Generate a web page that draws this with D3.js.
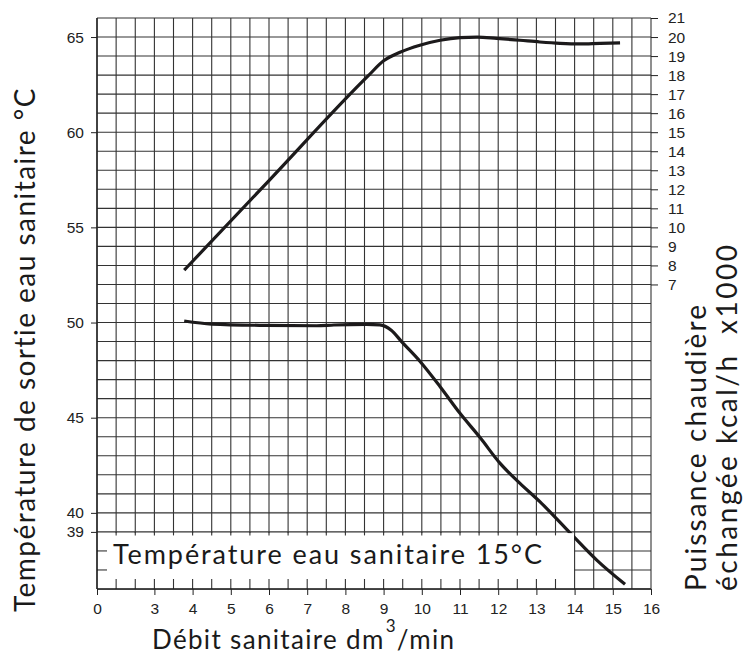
<!DOCTYPE html>
<html>
<head>
<meta charset="utf-8">
<script src="https://cdn.jsdelivr.net/npm/d3@7"></script>
<style>
    body { margin: 0; background: #fff; }
    .tick text { font-family: "Liberation Sans", Arial, sans-serif; font-size: 15.5px; fill: #222; }
    .tick line { stroke: #222; }
    .title { font-family: Lato, "Noto Sans", sans-serif; fill: #1a1a1a; }
</style>
</head>
<body>
<svg id="chart" width="747" height="654"></svg>
<script>
// x axis (débit) - broken between 0 and 3
const flowTicks = [0, 3, 4, 5, 6, 7, 8, 9, 10, 11, 12, 13, 14, 15, 16];
const flowGrid = [0, 1, 2, 3, 3.5, 4, 4.5, 5, 5.5, 6, 6.5, 7, 7.5, 8, 8.5, 9, 9.5, 10, 10.5, 11, 11.5, 12, 12.5, 13, 13.5, 14, 14.5, 15, 15.5, 16];
// left axis (température)
const tempTicks = [65, 60, 55, 50, 45, 40, 39];
// right axis (puissance)
const powerTicks = [7, 8, 9, 10, 11, 12, 13, 14, 15, 16, 17, 18, 19, 20, 21];

// upper curve: puissance échangée (right axis)
const powerFlow = [3.78, 6.0, 8.6, 9.0, 9.43, 9.95, 10.48, 11.0, 11.45, 11.96, 12.57, 13.09, 13.62, 14.14, 14.67, 15.19];
const powerValue = [7.75, 12.46, 17.97, 18.75, 19.2, 19.57, 19.83, 19.97, 20.0, 19.93, 19.83, 19.74, 19.67, 19.64, 19.67, 19.69];

// lower curve: température de sortie (left axis)
const tempFlow = [3.78, 4.5, 5.9, 7.25, 7.7, 8.55, 8.9, 9.2, 9.47, 9.95, 10.48, 11.0, 11.52, 12.05, 12.57, 13.09, 13.62, 14.0, 14.58, 15.32];
const tempValue = [50.08, 49.92, 49.85, 49.83, 49.87, 49.9, 49.88, 49.6, 49.0, 47.97, 46.63, 45.23, 43.97, 42.6, 41.55, 40.59, 39.5, 38.7, 37.52, 36.25];

const svg = d3.select('#chart');
const plotLeft = 97, plotRight = 651, plotTop = 18, plotBottom = 589;

const xScale = d3.scaleLinear().domain([0, 3, 16]).range([plotLeft, 154.4, plotRight]);
const yTemp = d3.scaleLinear().domain([36, 66]).range([plotBottom, plotTop]);
// power = temp - 45 on the same grid
const yPower = d3.scaleLinear().domain([-9, 21]).range([plotBottom, plotTop]);

const gridColor = '#333';

// spread the letters of a title so it covers the same length as in the original
function fitLength(sel, target) {
    const len = sel.node().getComputedTextLength();
    const n = sel.text().length;
    sel.attr('letter-spacing', (target - len) / (n - 1));
    return sel;
}

// grid
const grid = svg.append('g').attr('stroke', gridColor).attr('stroke-width', 1.1);
grid.selectAll('line.h')
    .data(d3.range(36, 67))
    .join('line')
    .attr('class', 'h')
    .attr('x1', plotLeft).attr('x2', plotRight)
    .attr('y1', d => yTemp(d)).attr('y2', d => yTemp(d));
grid.selectAll('line.v')
    .data(flowGrid)
    .join('line')
    .attr('class', 'v')
    .attr('x1', d => xScale(d)).attr('x2', d => xScale(d))
    .attr('y1', plotTop).attr('y2', plotBottom);

// curves
const powerLine = d3.line()
    .x((d, i) => xScale(powerFlow[i]))
    .y(d => yPower(d))
    .curve(d3.curveMonotoneX);
const tempLine = d3.line()
    .x((d, i) => xScale(tempFlow[i]))
    .y(d => yTemp(d))
    .curve(d3.curveMonotoneX);

const lines = svg.append('g')
    .attr('fill', 'none')
    .attr('stroke', '#1c1a1b')
    .attr('stroke-width', 3.2)
    .attr('stroke-linecap', 'butt');
lines.append('path').attr('d', powerLine(powerValue));
lines.append('path').attr('d', tempLine(tempValue));

// legend box (covers grid and curve below 39)
const box = svg.append('g');
box.append('rect')
    .attr('x', plotLeft + 1)
    .attr('y', yTemp(39) + 1.2)
    .attr('width', xScale(14) - plotLeft - 1.6)
    .attr('height', plotBottom - yTemp(39) - 1.8)
    .attr('fill', '#fff');
const stubs = box.append('g').attr('stroke', gridColor).attr('stroke-width', 1.1);
const inside = flowGrid.filter(d => d > 0 && d < 14);
stubs.selectAll('line.top')
    .data(inside)
    .join('line')
    .attr('class', 'top')
    .attr('x1', d => xScale(d)).attr('x2', d => xScale(d))
    .attr('y1', yTemp(39)).attr('y2', yTemp(39) + 3.5);
stubs.selectAll('line.bot')
    .data(inside)
    .join('line')
    .attr('class', 'bot')
    .attr('x1', d => xScale(d)).attr('x2', d => xScale(d))
    .attr('y1', plotBottom - 10).attr('y2', plotBottom);
stubs.selectAll('line.lft')
    .data([37, 38])
    .join('line')
    .attr('class', 'lft')
    .attr('x1', plotLeft).attr('x2', plotLeft + 10)
    .attr('y1', d => yTemp(d)).attr('y2', d => yTemp(d));

const legend = box.append('text')
    .attr('class', 'title')
    .attr('x', 113)
    .attr('y', 563.5)
    .attr('font-size', 27)
    .text('Température eau sanitaire 15°C');
fitLength(legend, 429);

// frame
svg.append('g').attr('stroke', '#222').attr('stroke-width', 1.4)
    .selectAll('line')
    .data([[plotLeft, plotTop, plotLeft, plotBottom], [plotLeft, plotBottom, plotRight, plotBottom]])
    .join('line')
    .attr('x1', d => d[0]).attr('y1', d => d[1])
    .attr('x2', d => d[2]).attr('y2', d => d[3]);

// axes
const xAxis = svg.append('g')
    .attr('transform', `translate(0, ${plotBottom})`)
    .call(d3.axisBottom(xScale).tickValues(flowTicks).tickSize(6).tickPadding(8).tickFormat(d3.format('d')));
xAxis.select('.domain').remove();

const yAxisL = svg.append('g')
    .attr('transform', `translate(${plotLeft}, 0)`)
    .call(d3.axisLeft(yTemp).tickValues(tempTicks).tickSize(6).tickPadding(7));
yAxisL.select('.domain').remove();

const yAxisR = svg.append('g')
    .attr('transform', `translate(${plotRight}, 0)`)
    .call(d3.axisRight(yPower).tickValues(powerTicks).tickSize(7).tickPadding(10));
yAxisR.select('.domain').remove();

// titles
const xTitle = svg.append('text')
    .attr('class', 'title')
    .attr('x', 152)
    .attr('y', 649)
    .attr('font-size', 26);
xTitle.append('tspan').text('Débit sanitaire dm');
xTitle.append('tspan').attr('dy', -17).attr('dx', 1).attr('font-size', 17).text('3');
xTitle.append('tspan').attr('dy', 17).text('/min');
fitLength(xTitle, 301);

const yTitleL = svg.append('text')
    .attr('class', 'title')
    .attr('transform', 'translate(35, 612) rotate(-90)')
    .attr('font-size', 28)
    .text('Température de sortie eau sanitaire °C');
fitLength(yTitleL, 524);

const yTitleR1 = svg.append('text')
    .attr('class', 'title')
    .attr('transform', 'translate(706, 591) rotate(-90)')
    .attr('font-size', 28)
    .text('Puissance chaudière');
fitLength(yTitleR1, 286);
const yTitleR2 = svg.append('text')
    .attr('class', 'title')
    .attr('transform', 'translate(737, 591) rotate(-90)')
    .attr('font-size', 28)
    .attr('xml:space', 'preserve')
    .text('échangée kcal/h  x1000');
fitLength(yTitleR2, 346);
</script>
</body>
</html>
